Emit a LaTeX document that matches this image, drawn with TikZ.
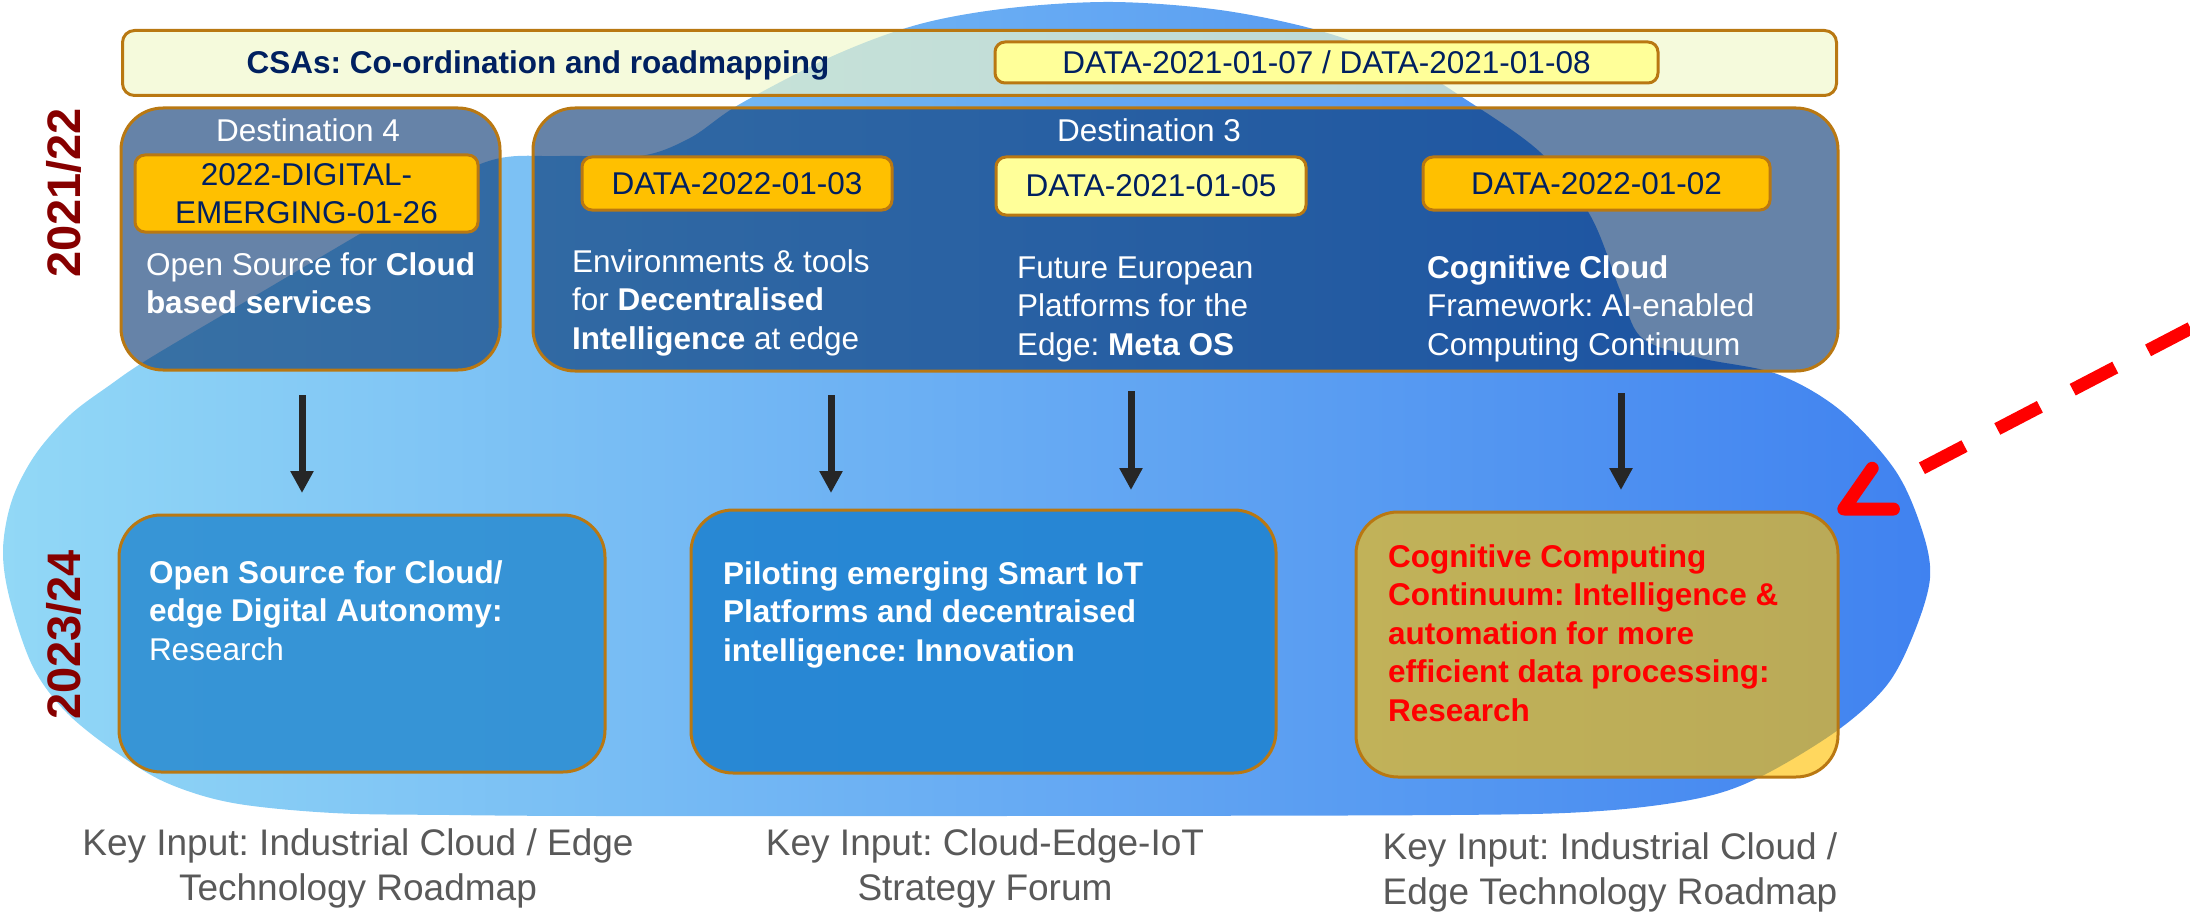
\documentclass[tikz,border=0pt]{standalone}
\usepackage{fontspec}
\setmainfont{Liberation Sans}
\usetikzlibrary{arrows.meta}
\definecolor{gold}{RGB}{185,120,18}
\definecolor{navy}{RGB}{0,32,96}
\definecolor{destfill}{RGB}{0,48,110}
\definecolor{blobL}{RGB}{146,216,246}
\definecolor{blobR}{RGB}{64,130,240}
\definecolor{csafill}{RGB}{240,248,203}
\definecolor{lyellow}{RGB}{255,255,153}
\definecolor{tagorange}{RGB}{255,192,0}
\definecolor{boxAfill}{RGB}{48,144,212}
\definecolor{boxBfill}{RGB}{34,132,210}
\definecolor{yearred}{RGB}{134,0,0}
\definecolor{keygrey}{RGB}{89,89,89}
\definecolor{arrowdark}{RGB}{38,38,38}
\newcommand\boxfont{\fontsize{31.5}{38.5}\selectfont}
\newcommand\keyfont{\fontsize{37}{45}\selectfont}
\newcommand\yearfont{\fontsize{47}{50}\selectfont\bfseries}
\newcommand\lblock[1]{\parbox[t]{600pt}{\boxfont\raggedright #1}}
\newcommand\cblock[1]{\parbox[t]{700pt}{\keyfont\centering #1}}
\begin{document}
\frenchspacing
\begin{tikzpicture}[x=1pt,y=-1pt,
  goldline/.style={draw=gold, line width=3pt},
  destbox/.style={goldline, fill=destfill, fill opacity=0.6, rounded corners=42pt, inner sep=0pt, outer sep=0pt, anchor=north west},
  lowbox/.style={goldline, rounded corners=42pt, inner sep=0pt, outer sep=0pt, anchor=north west},
  tagbase/.style={goldline, rounded corners=10pt, inner sep=0pt, outer sep=0pt, anchor=north west, text=navy, font=\boxfont, align=center},
  tagO/.style={tagbase, fill=tagorange},
  tagY/.style={tagbase, fill=lyellow},
  txtw/.style={anchor=base west, inner sep=0pt, outer sep=0pt, text=white},
  keytxt/.style={anchor=base, inner sep=0pt, outer sep=0pt, text=keygrey},
  yeartxt/.style={rotate=90, anchor=base, inner sep=0pt, text=yearred, font=\yearfont},
  arr/.style={draw=arrowdark, line width=7pt, -{Triangle[length=22pt,width=22pt]}},
  redarr/.style={draw=red, line width=13pt, dash pattern=on 48pt off 37pt on 48pt off 37pt on 48pt off 37pt on 48pt off 400pt, -{Straight Barb[length=44pt,width=46pt,round]}}
]
\useasboundingbox (0,0) rectangle (2190,915);

% background blob
\path[left color=blobL, right color=blobR] plot[smooth cycle, tension=0.55] coordinates {
 (560,156) (640,156) (690,138) (740,104) (835,55) (920,24) (1010,8) (1113,2) (1220,10)
 (1317,30) (1400,60) (1462,97) (1540,152) (1590,215) (1620,290) (1642,338) (1700,358)
 (1777,374) (1840,410) (1895,470) (1922,530) (1930,578) (1914,633) (1887,685) (1838,730)
 (1762,776) (1700,798) (1600,811) (1450,815) (1000,816) (600,816) (450,815) (333,813)
 (233,803) (167,783) (117,753) (67,713) (33,667) (10,600) (3,550) (12,500) (35,455)
 (70,415) (110,385) (150,358) (260,293) (370,228) (483,163)};

% CSA bar
\node[goldline, fill=csafill, fill opacity=0.67, rounded corners=12pt, inner sep=0pt, anchor=north west,
      minimum width=1714pt, minimum height=65pt] (csa) at (121,29) {};
\node[anchor=base, inner sep=0pt, text=navy, font=\boxfont\bfseries] (csatext) at (538,74) {CSAs: Co-ordination and roadmapping};
\node[tagY, minimum width=663pt, minimum height=41pt] (t0708) at (995,42) {DATA-2021-01-07 / DATA-2021-01-08};

% year labels
\node[yeartxt] (y1) at (80,193) {2021/22};
\node[yeartxt] (y2) at (80,635) {2023/24};

% destination boxes
\node[destbox, minimum width=379pt, minimum height=262pt] (d4) at (121,108) {};
\node[destbox, minimum width=1305pt, minimum height=263pt] (d3) at (533,108) {};
\node[anchor=base, inner sep=0pt, text=white, font=\boxfont] (d4t) at (308,142) {Destination 4};
\node[anchor=base, inner sep=0pt, text=white, font=\boxfont] (d3t) at (1149,142) {Destination 3};

% tags
\node[tagO, minimum width=343pt, minimum height=77pt] (t26) at (135,155) {2022-DIGITAL-\\EMERGING-01-26};
\node[tagO, minimum width=310pt, minimum height=53pt] (t03) at (582,157) {DATA-2022-01-03};
\node[tagY, minimum width=310pt, minimum height=58pt] (t05) at (996,157) {DATA-2021-01-05};
\node[tagO, minimum width=347pt, minimum height=53pt] (t02) at (1423,157) {DATA-2022-01-02};

% destination texts
\node[txtw] (x26) at (146,275) {\lblock{Open Source for \textbf{Cloud}\\\textbf{based services}}};
\node[txtw] (x03) at (572,272) {\lblock{Environments \& tools\\for \textbf{Decentralised}\\\textbf{Intelligence} at edge}};
\node[txtw] (x05) at (1017,278) {\lblock{Future European\\Platforms for the\\Edge: \textbf{Meta OS}}};
\node[txtw] (x02) at (1427,278) {\lblock{\textbf{Cognitive Cloud}\\Framework: AI-enabled\\Computing Continuum}};

% 2023/24 boxes
\node[lowbox, fill=boxAfill, fill opacity=0.92, minimum width=486pt, minimum height=257pt] (bA) at (119,515) {};
\node[lowbox, fill=boxBfill, fill opacity=0.92, minimum width=585pt, minimum height=263pt] (bB) at (691,510) {};
\node[lowbox, fill=tagorange, fill opacity=0.63, minimum width=482pt, minimum height=265pt] (bC) at (1356,512) {};

\node[txtw] (xA) at (149,583) {\lblock{\textbf{Open Source for Cloud/}\\\textbf{edge Digital Autonomy:}\\Research}};
\node[txtw] (xB) at (723,584) {\lblock{\bfseries Piloting emerging Smart IoT\\Platforms and decentraised\\intelligence: Innovation}};
\node[txtw, text=red] (xC) at (1388,567) {\lblock{\bfseries Cognitive Computing\\Continuum: Intelligence \&\\automation for more\\efficient data processing:\\Research}};

% key inputs
\node[keytxt] (k1) at (358,855) {\cblock{Key Input: Industrial Cloud / Edge\\Technology Roadmap}};
\node[keytxt] (k2) at (985,855) {\cblock{Key Input: Cloud-Edge-IoT\\Strategy Forum}};
\node[keytxt] (k3) at (1610,859) {\cblock{Key Input: Industrial Cloud /\\Edge Technology Roadmap}};

% arrows
\coordinate (a1s) at (302,395); \coordinate (a1e) at (302,493);
\coordinate (a2s) at (831,395); \coordinate (a2e) at (831,493);
\coordinate (a3s) at (1131,391); \coordinate (a3e) at (1131,490);
\coordinate (a4s) at (1621,393); \coordinate (a4e) at (1621,490);
\draw[arr] (a1s) -- (a1e);
\draw[arr] (a2s) -- (a2e);
\draw[arr] (a3s) -- (a3e);
\draw[arr] (a4s) -- (a4e);

% red dashed arrow
\coordinate (rs) at (2190.6,328.2);
\draw[redarr] (rs) -- (bC.north east);
\end{tikzpicture}
\end{document}
